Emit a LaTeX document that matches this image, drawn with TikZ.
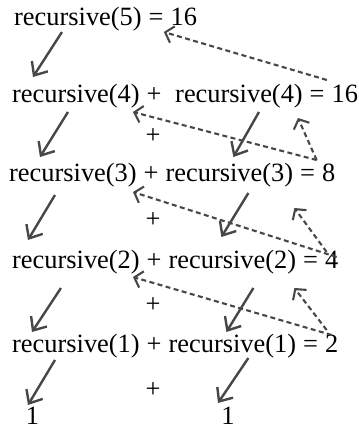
\documentclass[tikz,border=0pt]{standalone}
\usepackage{fontspec}
\setmainfont{Liberation Serif}
\usetikzlibrary{arrows.meta}
\usetikzlibrary{positioning}

\tikzset{
    txt/.style={inner sep=0pt, font=\fontsize{26.4}{30}\selectfont},
    call/.style={draw=black!72, line width=2.4pt, -{Straight Barb[length=11pt,width=19pt]}},
    back/.style={draw=black!72, line width=2.1pt, dash pattern=on 5pt off 3.4pt, -{Straight Barb[length=7.5pt,width=17pt]}},
}

\begin{document}
\begin{tikzpicture}[x=1pt,y=-1pt]
        \useasboundingbox (0,0) rectangle (358,430);
        \node[txt, anchor=base west] (r5) at (14,26) {recursive(5)};
        \node[txt, base right=6.6pt of r5] (e5) {=};
        \node[txt, base right=6.6pt of e5] (v5) {16};
        \node[txt, anchor=base west] (l4) at (12,103) {recursive(4)};
        \node[txt, base right=6.6pt of l4] (p4) {+};
        \node[txt, base right=13.2pt of p4] (r4) {recursive(4)};
        \node[txt, base right=6.6pt of r4] (e4) {=};
        \node[txt, base right=6.6pt of e4] (v4) {16};
        \foreach \n/\x/\y/\v in {3/9/182/8, 2/12/268/4, 1/12/352/2}{
            \node[txt, anchor=base west] (l\n) at (\x,\y) {recursive(\n)};
            \node[txt, base right=6.6pt of l\n] (p\n) {+};
            \node[txt, base right=6.6pt of p\n] (r\n) {recursive(\n)};
            \node[txt, base right=6.6pt of r\n] (e\n) {=};
            \node[txt, base right=6.6pt of e\n] (v\n) {\v};
        }
        \foreach \y [count=\i] in {136,220,305,390}{
            \node[txt] (q\i) at (153,\y) {+};
        }
        \node[txt, anchor=base] (o1) at (32.5,424) {1};
        \node[txt, anchor=base] (o2) at (228,424) {1};

        \draw[call] ([shift={(-16,6)}]r5.base) -- ([shift={(-43,-26)}]l4.base);
        \draw[call] ([shift={(-8,9)}]l4.base) -- ([shift={(-33,-25)}]l3.base);
        \draw[call] ([shift={(20,9)}]r4.base) -- ([shift={(4,-25)}]r3.base);
        \draw[call] ([shift={(-18,13)}]l3.base) -- ([shift={(-48,-28)}]l2.base);
        \draw[call] ([shift={(19,11)}]r3.base) -- ([shift={(-11,-31)}]r2.base);
        \draw[call] ([shift={(-15,20)}]l2.base) -- ([shift={(-44,-20)}]l1.base);
        \draw[call] ([shift={(21,20)}]r2.base) -- ([shift={(-6,-20)}]r1.base);
        \draw[call] ([shift={(-21,8)}]l1.base) -- ([shift={(-4.5,-19)}]o1.base);
        \draw[call] ([shift={(16,6)}]r1.base) -- ([shift={(-10,-21)}]o2.base);

        \draw[back] ([shift={(-18,-23)}]v4.base) -- ([shift={(-20,6)}]v5.base);
        \draw[back] ([shift={(-12,-22)}]v3.base) -- ([shift={(57,9)}]l4.base);
        \draw[back] ([shift={(-12,-22)}]v3.base) -- ([shift={(59,15)}]r4.base);
        \draw[back] ([shift={(5,-11)}]v2.base) -- ([shift={(60,10)}]l3.base);
        \draw[back] ([shift={(-5,-16)}]v2.base) -- ([shift={(65,26)}]r3.base);
        \draw[back] ([shift={(0,-17)}]v1.base) -- ([shift={(57,9)}]l2.base);
        \draw[back] ([shift={(-5,-22)}]v1.base) -- ([shift={(62,20)}]r2.base);
    \end{tikzpicture}
\end{document}
